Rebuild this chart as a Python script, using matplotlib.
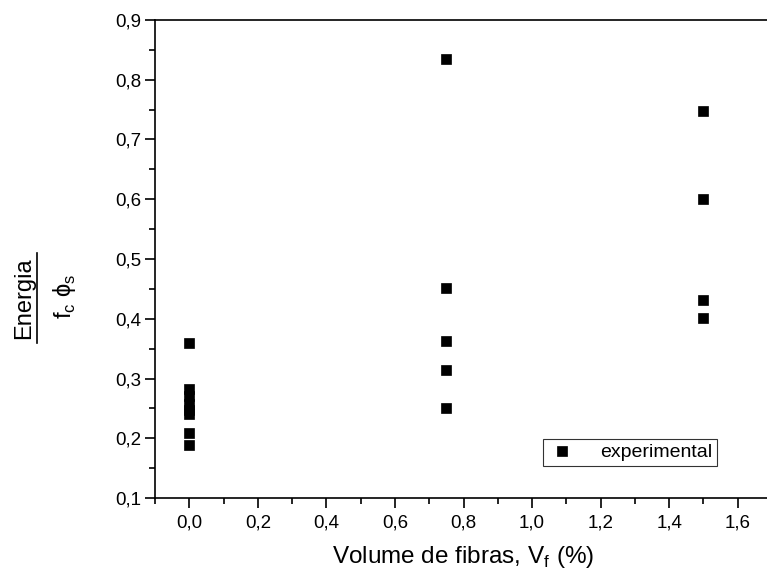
import matplotlib
matplotlib.use("Agg")
import matplotlib.pyplot as plt
from matplotlib.lines import Line2D
from matplotlib.ticker import MultipleLocator, FuncFormatter

# datos
vf_0 = [0.0] * 8
en_0 = [0.36, 0.282, 0.27, 0.258, 0.248, 0.241, 0.208, 0.188]
vf_075 = [0.75] * 5
en_075 = [0.835, 0.452, 0.362, 0.315, 0.251]
vf_15 = [1.5] * 4
en_15 = [0.748, 0.601, 0.431, 0.401]

vf = vf_0 + vf_075 + vf_15
energia = en_0 + en_075 + en_15

plt.rcParams['font.family'] = ['Liberation Sans', 'DejaVu Sans']
plt.rcParams['mathtext.fontset'] = 'custom'
plt.rcParams['mathtext.rm'] = 'Liberation Sans'

fig = plt.figure(figsize=(7.67, 5.77), dpi=100)
ax = fig.add_axes([155 / 767, 79 / 577, 617 / 767, 478 / 577])

ax.plot(vf, energia, 's', color='black', ms=7.6, mew=0.5, label='experimental')

ax.set_xlim(-0.1, 1.7)
ax.set_ylim(0.1, 0.9)

ax.xaxis.set_major_locator(MultipleLocator(0.2))
ax.xaxis.set_minor_locator(MultipleLocator(0.1))
ax.yaxis.set_major_locator(MultipleLocator(0.1))
ax.yaxis.set_minor_locator(MultipleLocator(0.05))
coma = FuncFormatter(lambda v, p: f"{v:.1f}".replace('.', ','))
ax.xaxis.set_major_formatter(coma)
ax.yaxis.set_major_formatter(coma)

ax.tick_params(which='major', direction='out', length=7, width=1.2, labelsize=13.5)
ax.tick_params(which='minor', direction='out', length=4, width=1.2)
ax.tick_params(axis='x', pad=5)
ax.tick_params(axis='y', pad=3)

ax.spines['right'].set_visible(False)
for s in ['left', 'bottom', 'top']:
    ax.spines[s].set_linewidth(1.2)

ax.set_xlabel("Volume de fibras, V$_\\mathregular{f}$ (%)", fontsize=17.5, labelpad=9)

# etiqueta del eje y: Energia / (f_c phi_s)
fig.text(24 / 767, 1 - 298 / 577, "Energia", rotation=90, fontsize=17,
         ha='center', va='center')
fig.add_artist(Line2D([37 / 767, 37 / 767], [1 - 253 / 577, 1 - 343 / 577],
                      color='black', lw=1.2))
fig.text(64 / 767, 1 - 296 / 577, "f$_\\mathregular{c}$ \u03d5$_\\mathregular{s}$",
         rotation=90, fontsize=17, ha='center', va='center')

leg = ax.legend(loc='lower right', bbox_to_anchor=(727 / 767, 1 - 476 / 577),
                bbox_transform=fig.transFigure, fontsize=14, frameon=True,
                fancybox=False, edgecolor='black', handletextpad=1.2,
                handlelength=1.5, borderpad=0.25, numpoints=1)
leg.get_frame().set_linewidth(0.8)

fig.savefig("out.png", dpi=100)
